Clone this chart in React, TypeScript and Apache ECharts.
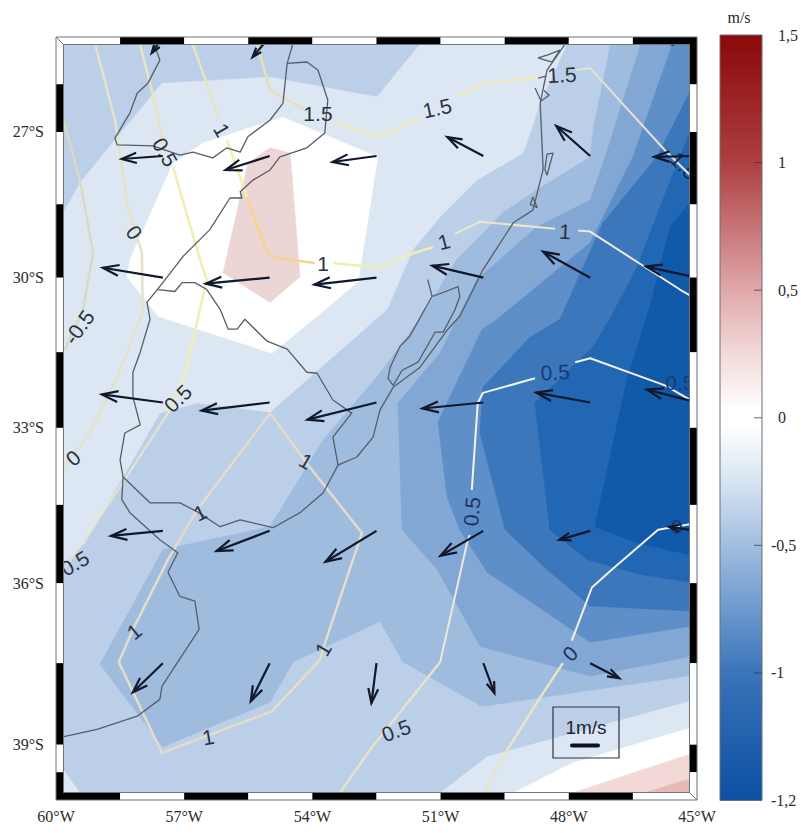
import React, { useEffect, useRef } from "react";
import * as echarts from "echarts";

type Pt = [number, number];

// ---- Mercator helper for the latitude axis ----
const merc = (lat: number) => {
  const s = lat < 0 ? -1 : 1;
  return s * (180 / Math.PI) * Math.log(Math.tan(Math.PI / 4 + (Math.abs(lat) * Math.PI) / 360));
};
const invMerc = (m: number) => (2 * Math.atan(Math.exp((m * Math.PI) / 180)) - Math.PI / 2) * (180 / Math.PI);

// ---- Axis ticks ----
const latLabels = [-27, -30, -33, -36, -39];
const colorbarPosTicks = [0, 0.5, 1, 1.5];
const colorbarNegTicks = [-0.5, -1, -1.5];
const colorbarInnerTicks = [1, 0.5, 0, -0.5, -1];
const colorbarStops: [number, string][] = [
  [1.5, "#8a0808"], [1, "#ad3f41"], [0.5, "#dfa8aa"], [0.25, "#f3d9d9"], [0.03, "#ffffff"], [-0.03, "#ffffff"],
  [-0.25, "#d8e4f2"], [-0.5, "#a2bde0"], [-0.75, "#6d99ce"], [-1, "#3a74b9"], [-1.5, "#0c4fa3"],
];

// ---- Frame band edges ----
const lonEdges = [-60, -58.5, -57, -55.5, -54, -52.5, -51, -49.5, -48, -46.5, -45];
const latEdges = [-25, -26, -27, -28.5, -30, -31.5, -33, -34.5, -36, -37.5, -39, -39.5, -40];

// ---- Filled contour bands (lon, lat), painted in order ----
const bandBase: Pt[] = [[-60, -25], [-45, -25], [-45, -40], [-60, -40]];
const bandLight: Pt[] = [
  [-60, -28.94], [-59.44, -28.06], [-58.62, -27.17], [-57.52, -25.98], [-54.99, -25.85], [-52.49, -26.27], [-51.34, -25],
  [-47.97, -25], [-48.67, -26.4], [-49.07, -27.44], [-50.15, -28], [-51.01, -28.76], [-51.65, -29.43], [-52.25, -30.64],
  [-54.99, -32.69], [-56.7, -32.51], [-57.57, -32.71], [-59.32, -35.23], [-60, -35.79],
];
const bandLightCorner: Pt[] = [[-60, -39.27], [-59.32, -40], [-60, -40]];
const bandLightSouth: Pt[] = [[-51.23, -40], [-49.91, -39.22], [-45, -38.17], [-45, -40]];
const bandWhiteSouth: Pt[] = [[-49.63, -40], [-47.9, -39.33], [-45, -38.66], [-45, -40]];
const bandPinkSouth: Pt[] = [[-48.42, -40], [-45, -39.13], [-45, -40]];
const bandRoseSouth: Pt[] = [[-46.78, -40], [-45, -39.58], [-45, -40]];
const bandWhite: Pt[] = [
  [-54.69, -26.69], [-52.47, -27.52], [-52.93, -30.08], [-53.75, -30.68], [-54.95, -31.52], [-57.61, -30.78],
  [-58.34, -29.98], [-58.27, -29.63], [-57.26, -27.65], [-56.56, -27.23],
];
const bandPink: Pt[] = [[-54.99, -27.33], [-54.52, -27.44], [-54.29, -29.98], [-54.99, -30.5], [-56.09, -29.9], [-55.51, -27.65]];
const band3: Pt[] = [
  [-46.99, -25], [-47.43, -26.96], [-47.5, -27.52], [-48.74, -28.2], [-49.54, -28.67], [-50.62, -29.63], [-51.41, -30.74],
  [-52.42, -31.92], [-53.75, -33.24], [-54.99, -34.92], [-57.5, -35.36], [-58.97, -37.52], [-57.5, -39.04], [-54.99, -38.22],
  [-54.45, -37.48], [-52.42, -36.72], [-51.88, -37.48], [-50.03, -38.3], [-45, -37.71], [-45, -25],
];
const band4: Pt[] = [
  [-46.26, -25], [-47.15, -27.52], [-47.5, -28.41], [-48.74, -28.96], [-50.15, -30.04], [-51.01, -31.51], [-52, -32.51],
  [-51.9, -34.98], [-51.08, -35.74], [-50.07, -37.19], [-47.5, -37.74], [-45, -37.35], [-45, -25],
];
const band5: Pt[] = [
  [-45.52, -25], [-46.5, -27.52], [-47.5, -29.29], [-49.68, -30.84], [-50.03, -31.04], [-51.06, -32.88], [-50.85, -34.35],
  [-50.55, -34.98], [-49.91, -35.79], [-47.5, -37.11], [-45, -36.79], [-45, -25],
];
const band6: Pt[] = [
  [-45, -25.87], [-45.94, -27.52], [-47.2, -28.88], [-48.21, -30.84], [-48.91, -31.2], [-50.01, -32.2], [-50.08, -33.1],
  [-49.49, -34.98], [-48.51, -35.74], [-47.5, -36.43], [-45, -36.53],
];
const band7: Pt[] = [
  [-45, -26.64], [-45.8, -28.41], [-46.4, -29.78], [-47.04, -30.84], [-47.43, -31.39], [-48.79, -32.51], [-48.44, -34.98],
  [-47.57, -35.55], [-46.33, -35.83], [-45, -36],
];
const band8: Pt[] = [[-45, -28.31], [-45.63, -28.96], [-46.1, -30.58], [-46.64, -32.06], [-47.39, -34.92], [-46.4, -35.23], [-45, -35.49]];

const bands: { pts: Pt[]; color: string }[] = [
  { pts: bandBase, color: "#bbcfe8" },
  { pts: bandLight, color: "#dde7f3" },
  { pts: bandLightCorner, color: "#dde7f3" },
  { pts: bandLightSouth, color: "#dde7f3" },
  { pts: bandWhiteSouth, color: "#ffffff" },
  { pts: bandPinkSouth, color: "#f2d9d7" },
  { pts: bandRoseSouth, color: "#e9b9b4" },
  { pts: bandWhite, color: "#ffffff" },
  { pts: bandPink, color: "#ebd5d5" },
  { pts: band3, color: "#9fbbde" },
  { pts: band4, color: "#82a7d5" },
  { pts: band5, color: "#5f8fc8" },
  { pts: band6, color: "#3c76bb" },
  { pts: band7, color: "#2167b3" },
  { pts: band8, color: "#1159a9" },
];

// ---- Contour lines ----
const c15a: Pt[] = [[-55.34, -25], [-54.99, -26.13], [-54.17, -26.54]];
const c15b: Pt[] = [[-53.52, -26.79], [-52.42, -27.1], [-51.48, -26.69]];
const c15c: Pt[] = [[-50.62, -26.27], [-50.01, -25.98], [-48.67, -25.85]];
const c15d: Pt[] = [[-47.83, -25.7], [-47.5, -25.66], [-45.75, -27.38], [-45.16, -27.9]];
const c1a: Pt[] = [[-56.86, -25], [-56.19, -26.7]];
const c1b: Pt[] = [[-56, -27.17], [-55.53, -28.35]];
const c1c: Pt[] = [[-55.53, -28.35], [-55.06, -29.49], [-54.92, -29.59], [-53.94, -29.7]];
const c1d: Pt[] = [[-53.52, -29.7], [-52.42, -29.8], [-51.88, -29.57], [-51.18, -29.38]];
const c1e: Pt[] = [[-50.66, -29.1], [-50.08, -28.86], [-48.32, -29]];
const c1f: Pt[] = [[-47.78, -29.04], [-47.5, -29.06], [-45.4, -30.24], [-45, -30.44]];
const c05a: Pt[] = [[-58.08, -25], [-57.64, -26.54], [-57.45, -27.44]];
const c05b: Pt[] = [[-57.26, -27.73], [-56.63, -29.63], [-56.47, -30.04], [-56.63, -30.64], [-57.03, -32.12], [-57.38, -32.71]];
const c05c: Pt[] = [[-57.38, -32.71], [-58.5, -34.15], [-59.37, -35.23], [-59.91, -35.83]];
const c0a: Pt[] = [[-59.13, -25], [-58.62, -26.75], [-58.32, -28.55], [-57.99, -29.49], [-57.97, -30.7], [-58.57, -32], [-59.2, -33.1], [-59.86, -33.82]];
const cm05: Pt[] = [[-59.86, -26.65], [-59.44, -28], [-59.13, -29.49], [-59.37, -30.64], [-59.79, -31.45]];
const c1South: Pt[] = [
  [-54.99, -32.71], [-56.7, -34.6], [-57.38, -35.55], [-58.2, -36.87], [-58.53, -37.48], [-57.52, -39.15], [-54.95, -38.39],
  [-53.82, -37.44], [-53.7, -37.11], [-53.05, -35.55], [-52.84, -35.04], [-54.06, -33.77], [-54.99, -32.71],
];
const c05e1: Pt[] = [[-45.16, -32.45], [-45.75, -32.16], [-47.5, -31.62], [-47.85, -31.7]];
const c05e2: Pt[] = [[-48.79, -32.02], [-50.01, -32.31], [-50.13, -32.51], [-50.27, -34.21]];
const c05e3: Pt[] = [[-50.32, -35.08], [-50.38, -35.23], [-51.01, -37.48]];
const c05e4: Pt[] = [[-51.01, -37.48], [-52.65, -39.09], [-53.47, -40]];
const c0e1: Pt[] = [[-45, -34.85], [-45.91, -34.98], [-46.99, -35.74], [-47.46, -36.08], [-47.93, -37.08]];
const c0e2: Pt[] = [[-48.14, -37.5], [-48.74, -38.22], [-49.54, -39.22], [-50.08, -40]];

const contourLines: { pts: Pt[]; color: string; width: number }[] = [
  { pts: c15a, color: "#e8dfb6", width: 2.5 },
  { pts: c15b, color: "#eee9c4", width: 3 },
  { pts: c15c, color: "#eee9c9", width: 3 },
  { pts: c15d, color: "#e6e2d2", width: 2 },
  { pts: c1a, color: "#e6e3bf", width: 2.5 },
  { pts: c1b, color: "#f5efa8", width: 2.5 },
  { pts: c1c, color: "#f8d48c", width: 2.5 },
  { pts: c1d, color: "#f1eeb4", width: 2.5 },
  { pts: c1e, color: "#ece6c8", width: 2 },
  { pts: c1f, color: "#ecebe2", width: 2 },
  { pts: c05a, color: "#e6e5bf", width: 2.5 },
  { pts: c05b, color: "#f1eeb0", width: 2.5 },
  { pts: c05c, color: "#e6e4c8", width: 2 },
  { pts: c0a, color: "#e4e3c8", width: 2.5 },
  { pts: cm05, color: "#d9dac6", width: 2.5 },
  { pts: c1South, color: "#e2dcc8", width: 2.5 },
  { pts: c05e1, color: "#f2f1ea", width: 2 },
  { pts: c05e2, color: "#f4f4ee", width: 2 },
  { pts: c05e3, color: "#ece9d8", width: 2 },
  { pts: c05e4, color: "#e6e2c4", width: 2.5 },
  { pts: c0e1, color: "#f2f2ec", width: 2 },
  { pts: c0e2, color: "#e8e4c8", width: 2.5 },
];

const contourLabels: { text: string; lon: number; lat: number; rot: number; color?: string }[] = [
  { text: "1.5", lon: -53.87, lat: -26.62, rot: 0 },
  { text: "1.5", lon: -51.08, lat: -26.5, rot: 12 },
  { text: "1.5", lon: -48.16, lat: -25.8, rot: 3 },
  { text: "1.5", lon: -45.3, lat: -27.7, rot: -45, color: "#15284f" },
  { text: "1", lon: -56.12, lat: -26.96, rot: -60 },
  { text: "1", lon: -53.75, lat: -29.72, rot: 0 },
  { text: "1", lon: -50.92, lat: -29.27, rot: 15 },
  { text: "1", lon: -48.09, lat: -29.06, rot: -3 },
  { text: "0.5", lon: -57.45, lat: -27.42, rot: -60 },
  { text: "0", lon: -58.17, lat: -29.08, rot: -55 },
  { text: "-0.5", lon: -59.46, lat: -31, rot: 55 },
  { text: "0.5", lon: -57.15, lat: -32.42, rot: 45 },
  { text: "0", lon: -59.6, lat: -33.59, rot: 40 },
  { text: "0.5", lon: -59.56, lat: -35.62, rot: 30 },
  { text: "1", lon: -56.63, lat: -34.65, rot: 25 },
  { text: "1", lon: -54.15, lat: -33.65, rot: -30 },
  { text: "1", lon: -58.17, lat: -36.91, rot: 40 },
  { text: "1", lon: -53.75, lat: -37.24, rot: 60 },
  { text: "1", lon: -56.44, lat: -38.86, rot: 10 },
  { text: "0.5", lon: -50.27, lat: -34.63, rot: 85, color: "#1b3560" },
  { text: "0.5", lon: -52.04, lat: -38.74, rot: 20 },
  { text: "0.5", lon: -48.32, lat: -31.9, rot: 3, color: "#1b3a6e" },
  { text: "0.5", lon: -45.4, lat: -32.1, rot: 0, color: "#1b3a6e" },
  { text: "0", lon: -47.97, lat: -37.32, rot: 45, color: "#15305c" },
  { text: "0", lon: -45.47, lat: -34.92, rot: 0, color: "#1b3a6e" },
];

// ---- Coast and border lines ----
const coastA: Pt[] = [
  [-57.68, -25.21], [-57.57, -25.49], [-57.73, -25.77], [-57.85, -25.98], [-58.1, -26.19], [-58.27, -26.6], [-58.62, -27.13],
  [-58.57, -27.27], [-57.73, -27.29], [-57.1, -27.48], [-56.79, -27.42], [-56.56, -27.48], [-56.33, -27.54], [-56, -27.33],
  [-55.69, -27.42], [-55.51, -27.1], [-54.99, -26.75], [-54.69, -26.4], [-54.59, -25.56], [-54.41, -25],
];
const coastB: Pt[] = [
  [-54.59, -25.56], [-54.13, -25.53], [-53.87, -25.7], [-53.64, -26.33], [-53.71, -27.02], [-54.13, -27.33], [-54.76, -27.52],
  [-54.99, -27.79], [-55.39, -28], [-55.69, -28.24], [-55.65, -28.37], [-55.93, -28.37], [-56.4, -29.02], [-57.03, -29.57],
  [-57.5, -30.1], [-57.87, -30.5], [-57.8, -30.84], [-58.03, -31.5], [-58.2, -31.9], [-58.2, -32.39], [-58.03, -32.94],
  [-58.39, -33.1], [-58.5, -33.63], [-58.43, -33.96], [-58.46, -34.4], [-58.27, -34.65], [-57.57, -35.17], [-57.15, -35.42],
  [-57.38, -35.79], [-57.1, -36.25], [-56.75, -36.34], [-56.65, -36.87], [-57.26, -37.61], [-57.52, -37.93], [-57.57, -38.17],
  [-58.1, -38.48], [-59.04, -38.72], [-59.79, -38.85], [-60, -38.91],
];
const coastC: Pt[] = [
  [-57.61, -30.24], [-57.22, -30.28], [-57.05, -30.1], [-56.75, -30.1], [-56.47, -30.24], [-56.16, -30.64], [-55.97, -31.04],
  [-55.76, -31.04], [-55.58, -30.84], [-55.06, -31.28], [-54.59, -31.44], [-54.13, -31.9], [-53.89, -31.92], [-53.52, -32.45],
  [-53.08, -32.71], [-53.52, -33.18], [-53.4, -33.73], [-53.75, -34.27], [-54.29, -34.65], [-54.92, -34.94], [-55.69, -34.79],
  [-56.16, -34.92], [-56.7, -34.63], [-57.1, -34.46], [-57.8, -34.46], [-58.43, -33.96],
];
const coastD: Pt[] = [
  [-53.4, -33.73], [-52.96, -33.57], [-52.58, -33.18], [-52.42, -32.65], [-52.11, -32.2], [-51.48, -31.8], [-50.83, -31.04],
  [-50.55, -30.78], [-50.01, -29.84], [-49.3, -28.88], [-48.84, -28.62], [-48.6, -27.78], [-48.67, -26.4], [-48.51, -25.7], [-47.97, -25],
];
const lagoonPatos: Pt[] = [
  [-51.3, -30.04], [-51.2, -30.38], [-51.41, -30.7], [-51.72, -31.18], [-51.95, -31.38], [-52.18, -31.8], [-52.23, -32.02],
  [-52.11, -32.16], [-51.9, -31.86], [-51.53, -31.7], [-51.13, -31.1], [-50.94, -31.1], [-50.66, -30.64], [-50.55, -30.38],
  [-50.59, -30.18], [-50.94, -30.3], [-51.2, -30.38],
];
const lagoonNorth: Pt[] = [[-48.72, -25.44], [-48.39, -25.53], [-48.21, -25.28], [-48.49, -25.38], [-48.72, -25.44]];
const lagoonMid: Pt[] = [[-48.79, -26.08], [-48.65, -26.35], [-48.46, -26.23], [-48.58, -26.13]];
const lagoonBar: Pt[] = [[-48.72, -25.87], [-48.53, -25.83]];
const lagoonLong: Pt[] = [[-48.51, -27.9], [-48.37, -27.44], [-48.51, -27.46], [-48.56, -27.78], [-48.51, -27.9]];
const lagoonSmall: Pt[] = [[-48.84, -28.35], [-48.74, -28.57], [-48.9, -28.5], [-48.84, -28.35]];
const coastLines = [coastA, coastB, coastC, coastD, lagoonPatos, lagoonNorth, lagoonMid, lagoonBar, lagoonLong, lagoonSmall];

// ---- Wind vectors: lon, lat, u (m/s), v (m/s) ----
const windLons = [-57.5, -55, -52.5, -50, -47.5, -45];
const windLats = [-25, -27.5, -30, -32.5, -35, -37.5];
const windU: (number | null)[][] = [
  [-0.37, -0.57, null, null, null, -1.23],
  [-1.37, -1.47, -1.47, -1.2, -1.13, -1.43],
  [-2, -2.13, -2.07, -1.7, -1.57, -1.7],
  [-2.03, -2.27, -2.3, -2.03, -1.8, -1.67],
  [-1.73, -1.77, -1.7, -1.43, -1.03, -0.93],
  [-1, -0.63, -0.17, 0.37, 0.97, null],
];
const windV: (number | null)[][] = [
  [-0.53, -0.67, null, null, null, -0.17],
  [-0.1, -0.47, -0.2, 0.63, 1, -0.03],
  [0.33, -0.2, -0.23, 0.4, 0.87, 0.37],
  [0.27, -0.27, -0.57, -0.2, 0.33, 0.43],
  [-0.17, -0.67, -1.03, -0.83, -0.3, 0.13],
  [-0.97, -1.27, -1.33, -1, -0.5, null],
];
const legendUnit = 1; // m/s
const legendText = "1m/s";

const arrowData: number[][] = [];
windLats.forEach((lat, r) =>
  windLons.forEach((lon, c) => {
    const u = windU[r][c];
    const v = windV[r][c];
    if (u !== null && v !== null) arrowData.push([lon, merc(lat), u, v]);
  })
);

const SANS = "'Liberation Sans', Arial, sans-serif";
const SERIF = "'Liberation Serif', 'DejaVu Serif', serif";
const PX_PER_MS = 30;

const legendLabel = (v: number) => (v === -1.5 ? "-1,2" : String(v).replace(".", ","));

export default function App() {
  const ref = useRef<HTMLDivElement>(null);
  useEffect(() => {
    if (!ref.current) return;
    const chart = echarts.init(ref.current, undefined, { renderer: "svg" });
    const toPx = (api: any, p: Pt) => api.coord([p[0], merc(p[1])]);

    const barGradient = new echarts.graphic.LinearGradient(
      0, 0, 0, 1,
      [...colorbarStops].map(([v, c]) => ({ offset: (1.5 - v) / 3, color: c }))
    );

    const option: any = {
      animation: false,
      backgroundColor: "#ffffff",
      grid: [
        { left: 56, top: 37, width: 641, height: 763 },
        { left: 720, top: 35, width: 43, height: 765.5 },
      ],
      xAxis: [
        {
          gridIndex: 0, type: "value", min: -60, max: -45, interval: 3,
          axisLine: { show: false }, axisTick: { show: false },
          splitLine: { show: true, lineStyle: { color: "rgba(110,120,130,0.13)", width: 1 } },
          axisLabel: {
            margin: 8, fontFamily: SERIF, fontSize: 16, color: "#2a2a2a",
            formatter: (v: number) => `${Math.abs(v)}°W`,
          },
        },
        { gridIndex: 1, type: "value", min: 0, max: 1, show: false },
      ],
      yAxis: [
        {
          gridIndex: 0, type: "value", min: merc(-40), max: merc(-25),
          axisLine: { show: false },
          axisTick: { show: false, customValues: latLabels.map(merc) },
          splitLine: { show: true, lineStyle: { color: "rgba(110,120,130,0.13)", width: 1 } },
          axisLabel: {
            margin: 12, fontFamily: SERIF, fontSize: 16, color: "#2a2a2a",
            customValues: latLabels.map(merc),
            formatter: (v: number) => `${Math.abs(Math.round(invMerc(v)))}°S`,
          },
        },
        {
          gridIndex: 1, type: "value", min: -1.5, max: 1.5, position: "right",
          axisLine: { show: false }, splitLine: { show: false }, axisTick: { show: false },
          axisLabel: { margin: 16, fontFamily: SERIF, fontSize: 16, color: "#2a2a2a", customValues: colorbarPosTicks, formatter: legendLabel },
        },
        {
          gridIndex: 1, type: "value", min: -1.5, max: 1.5, position: "right",
          axisLine: { show: false }, splitLine: { show: false }, axisTick: { show: false },
          axisLabel: { margin: 9, fontFamily: SERIF, fontSize: 16, color: "#2a2a2a", customValues: colorbarNegTicks, formatter: legendLabel },
        },
      ],
      series: [
        {
          type: "custom", name: "bands", xAxisIndex: 0, yAxisIndex: 0, z: 1, clip: true, silent: true,
          data: bands.map((_, i) => i),
          renderItem: (params: any, api: any) => {
            const b = bands[params.dataIndex];
            return { type: "polygon", shape: { points: b.pts.map((p) => toPx(api, p)) }, style: { fill: b.color, stroke: b.color, lineWidth: 0.5 } };
          },
        },
        {
          type: "custom", name: "contours", xAxisIndex: 0, yAxisIndex: 0, z: 2, clip: true, silent: true,
          data: contourLines.map((_, i) => i),
          renderItem: (params: any, api: any) => {
            const c = contourLines[params.dataIndex];
            return { type: "polyline", shape: { points: c.pts.map((p) => toPx(api, p)) }, style: { fill: "none", stroke: c.color, lineWidth: c.width, lineJoin: "round" } };
          },
        },
        {
          type: "custom", name: "coast", xAxisIndex: 0, yAxisIndex: 0, z: 3, clip: true, silent: true,
          data: coastLines.map((_, i) => i),
          renderItem: (params: any, api: any) => ({
            type: "polyline",
            shape: { points: coastLines[params.dataIndex].map((p) => toPx(api, p)) },
            style: { fill: "none", stroke: "#555e68", lineWidth: 1.3, lineJoin: "round" },
          }),
        },
        {
          type: "custom", name: "labels", xAxisIndex: 0, yAxisIndex: 0, z: 4, clip: true, silent: true,
          data: contourLabels.map((_, i) => i),
          renderItem: (params: any, api: any) => {
            const l = contourLabels[params.dataIndex];
            const [x, y] = toPx(api, [l.lon, l.lat]);
            return {
              type: "text", x, y, rotation: (l.rot * Math.PI) / 180,
              style: { text: l.text, fontFamily: SANS, fontSize: 21, fill: l.color || "#2a3242", align: "center", verticalAlign: "middle" },
            };
          },
        },
        {
          type: "custom", name: "wind", xAxisIndex: 0, yAxisIndex: 0, z: 5, clip: true, silent: true,
          data: arrowData,
          encode: { x: 0, y: 1 },
          renderItem: (_: any, api: any) => {
            const [x0, y0] = api.coord([api.value(0), api.value(1)]);
            const x1 = x0 + api.value(2) * PX_PER_MS;
            const y1 = y0 - api.value(3) * PX_PER_MS;
            const a = Math.atan2(y1 - y0, x1 - x0);
            const len = Math.hypot(x1 - x0, y1 - y0);
            const h = Math.min(17, Math.max(10, len * 0.38));
            const sp = 0.33;
            const style = { fill: "none", stroke: "#10182c", lineWidth: 2.2, lineJoin: "miter" };
            return {
              type: "group",
              children: [
                { type: "line", shape: { x1: x0, y1: y0, x2: x1, y2: y1 }, style },
                {
                  type: "polyline",
                  shape: {
                    points: [
                      [x1 - h * Math.cos(a - sp), y1 - h * Math.sin(a - sp)],
                      [x1, y1],
                      [x1 - h * Math.cos(a + sp), y1 - h * Math.sin(a + sp)],
                    ],
                  },
                  style,
                },
              ],
            };
          },
        },
        {
          type: "custom", name: "frame", xAxisIndex: 0, yAxisIndex: 0, z: 8, clip: false, silent: true,
          data: [0],
          renderItem: (_: any, api: any) => {
            const children: any[] = [];
            const w = 7.5;
            const [xl, yb] = api.coord([-60, merc(-40)]);
            const [xr, yt] = api.coord([-45, merc(-25)]);
            const seg = (x: number, y: number, ww: number, hh: number, black: boolean) =>
              children.push({ type: "rect", shape: { x, y, width: ww, height: hh }, style: { fill: black ? "#000000" : "#ffffff" } });
            lonEdges.slice(0, -1).forEach((lon, i) => {
              const a = api.coord([lon, merc(-25)])[0];
              const b = api.coord([lonEdges[i + 1], merc(-25)])[0];
              seg(a, yt, b - a, w, i % 2 === 1);
              seg(a, yb - w, b - a, w, i % 2 === 0);
            });
            latEdges.slice(0, -1).forEach((lat, i) => {
              const a = api.coord([-60, merc(lat)])[1];
              const b = api.coord([-60, merc(latEdges[i + 1])])[1];
              seg(xl, a, w, b - a, i % 2 === 1);
              seg(xr - w, a, w, b - a, i % 2 === 0);
            });
            const edge = { fill: "none", stroke: "#6f7478", lineWidth: 1 };
            children.push({ type: "rect", shape: { x: xl, y: yt, width: xr - xl, height: yb - yt }, style: edge });
            children.push({ type: "rect", shape: { x: xl + w, y: yt + w, width: xr - xl - 2 * w, height: yb - yt - 2 * w }, style: edge });
            children.push({ type: "line", shape: { x1: xl, y1: yt, x2: xl + w, y2: yt + w }, style: edge });
            children.push({ type: "line", shape: { x1: xr, y1: yb, x2: xr - w, y2: yb - w }, style: edge });
            return { type: "group", children };
          },
        },
        {
          type: "custom", name: "colorbar", xAxisIndex: 1, yAxisIndex: 1, z: 1, clip: false, silent: true,
          data: [[0, 1.5, 1, -1.5]],
          renderItem: (_: any, api: any) => {
            const [x0, y0] = api.coord([api.value(0), api.value(1)]);
            const [x1, y1] = api.coord([api.value(2), api.value(3)]);
            const children: any[] = [
              { type: "rect", shape: { x: x0, y: y0, width: x1 - x0, height: y1 - y0 }, style: { fill: barGradient, stroke: "#6b7076", lineWidth: 1 } },
            ];
            colorbarInnerTicks.forEach((t) => {
              const [, yy] = api.coord([1, t]);
              children.push({ type: "line", shape: { x1: x1 - 8, y1: yy, x2: x1, y2: yy }, style: { stroke: "rgba(50,50,60,0.7)", lineWidth: 1 } });
            });
            return { type: "group", children };
          },
        },
      ],
      graphic: [
        {
          type: "text", x: 739, y: 17, z: 20,
          style: { text: "m/s", fontFamily: SERIF, fontSize: 16, fill: "#2a2a2a", align: "center", verticalAlign: "middle" },
        },
        {
          type: "rect", z: 20, shape: { x: 553, y: 707, width: 66, height: 51 },
          style: { fill: "none", stroke: "#2d3340", lineWidth: 1.2 },
        },
        {
          type: "text", x: 586, y: 727, z: 20,
          style: { text: legendText, fontFamily: SANS, fontSize: 19, fill: "#1f2533", align: "center", verticalAlign: "middle" },
        },
        {
          type: "rect", z: 20, shape: { x: 570, y: 743.5, width: legendUnit * PX_PER_MS, height: 4, r: 2 },
          style: { fill: "#0c1020" },
        },
      ],
    };
    chart.setOption(option);
    return () => chart.dispose();
  }, []);
  return <div ref={ref} style={{ position: "fixed", left: 0, top: 0, width: 801, height: 833 }} />;
}
